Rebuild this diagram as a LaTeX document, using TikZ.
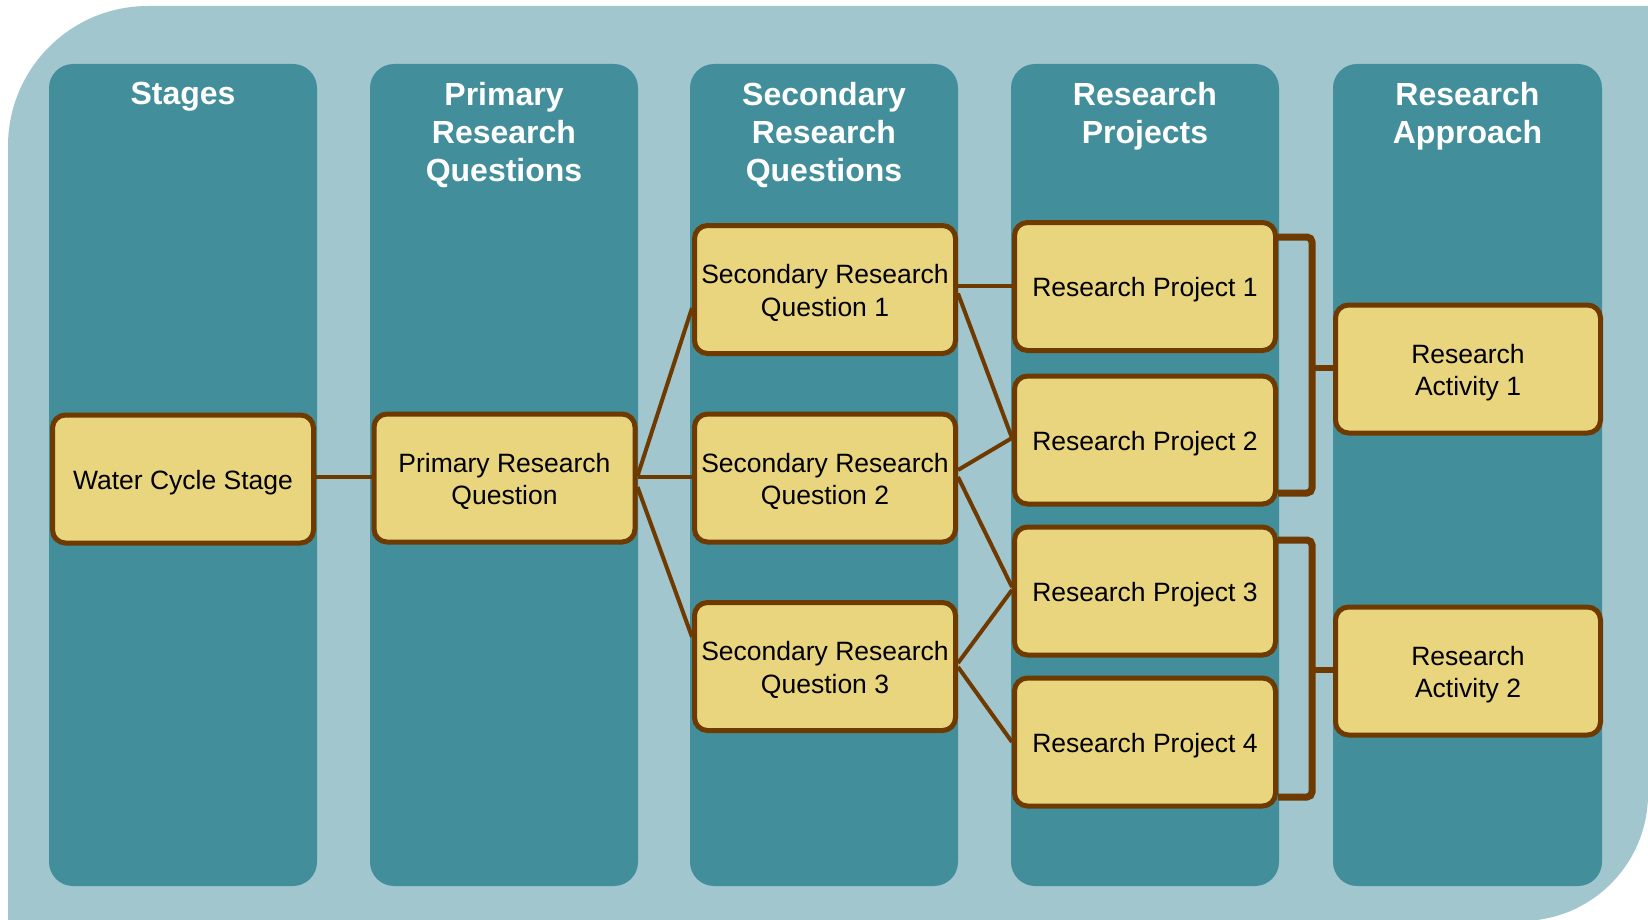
\documentclass[tikz,border=0pt]{standalone}
\usepackage{fontspec}
\setmainfont{Liberation Sans}
\usetikzlibrary{calc}
\definecolor{bglight}{RGB}{162,198,206}
\definecolor{colteal}{RGB}{67,142,155}
\definecolor{boxfill}{RGB}{233,213,125}
\definecolor{brownc}{RGB}{110,58,0}
\begin{document}
\begin{tikzpicture}[x=1pt,y=-1pt,
  colbox/.style={fill=colteal, rounded corners=24pt},
  header/.style={text=white, font=\fontsize{32}{38.3}\selectfont\bfseries, align=center, anchor=north, inner sep=0pt},
  item/.style={draw=brownc, line width=5pt, fill=boxfill, rounded corners=13pt, minimum width=261pt, minimum height=128pt, inner sep=0pt},
  itemtext/.style={align=center, font=\fontsize{26.5}{32.6}\selectfont, inner sep=0pt, yshift=-3.5pt},
  link/.style={draw=brownc, line width=4pt},
  brace/.style={draw=brownc, line width=7pt, rounded corners=5pt},
  stub/.style={draw=brownc, line width=6pt}]
\useasboundingbox (0,0) rectangle (1648,920);
% background
\fill[bglight] (8,146) .. controls (8,68.7) and (70.7,6) .. (148,6) -- (1648,6) -- (1648,794) .. controls (1648,864.1) and (1591.1,921) .. (1521,921) -- (8,921) -- cycle;
% columns
\fill[colbox] (49,64) rectangle (317,886);
\fill[colbox] (370,64) rectangle (638,886);
\fill[colbox] (690,64) rectangle (958,886);
\fill[colbox] (1011,64) rectangle (1279,886);
\fill[colbox] (1333,64) rectangle (1602,886);
% headers
\node[header] (h1) at (183,82) {Stages};
\node[header] (h2) at (504,82) {Primary\\Research\\Questions};
\node[header] (h3) at (824,82) {Secondary\\Research\\Questions};
\node[header] (h4) at (1145,82) {Research\\Projects};
\node[header] (h5) at (1467.5,82) {Research\\Approach};
% boxes
\node[item, label={[itemtext]center:Water Cycle Stage}] (w) at (183,479) {};
\node[item, label={[itemtext]center:{Primary Research\\Question}}] (p) at (504.5,478) {};
\node[item, label={[itemtext]center:{Secondary Research\\Question 1}}] (s1) at (825,289.5) {};
\node[item, label={[itemtext]center:{Secondary Research\\Question 2}}] (s2) at (825,478) {};
\node[item, label={[itemtext]center:{Secondary Research\\Question 3}}] (s3) at (825,666.5) {};
\node[item, label={[itemtext]center:Research Project 1}] (r1) at (1145,286.5) {};
\node[item, label={[itemtext]center:Research Project 2}] (r2) at (1145,440) {};
\node[item, label={[itemtext]center:Research Project 3}] (r3) at (1145,591) {};
\node[item, label={[itemtext]center:Research Project 4}] (r4) at (1145,742) {};
\node[item, minimum width=265pt, label={[itemtext]center:{Research\\Activity 1}}] (a1) at (1468,369) {};
\node[item, minimum width=265pt, label={[itemtext]center:{Research\\Activity 2}}] (a2) at (1468,671) {};
% connectors
\draw[link] ($(w.east)+(0,-2)$) -- ($(p.west)+(0,-1)$);
\draw[link] ($(p.east)+(0,-2)$) -- ($(s1.west)+(0,18.5)$);
\draw[link] ($(p.east)+(0,-1)$) -- ($(s2.west)+(0,-1)$);
\draw[link] ($(p.east)+(0,9)$) -- ($(s3.west)+(0,-29.5)$);
\draw[link] ($(r1.west)+(0,-0.5)$) -- ($(r1.west -| s1.east)+(0,-0.5)$);
\draw[link] ($(s1.east)+(0,4)$) -- ($(r2.west)+(0,-2)$);
\draw[link] ($(s2.east)+(0,-8)$) -- ($(r2.west)+(0,-2)$);
\draw[link] ($(s2.east)+(0,-1)$) -- ($(r3.west)+(0,-4)$);
\draw[link] ($(s3.east)+(0,-3.5)$) -- ($(r3.west)+(0,-1)$);
\draw[link] ($(s3.east)+(0,0.5)$) -- ($(r4.west)+(0,0)$);
% brackets
\coordinate (b1t) at ($(r1.east)+(0,-49.5)$);
\coordinate (b1b) at ($(r2.east)+(0,53)$);
\draw[brace] (b1t) -- ++(34,0) |- (b1b);
\draw[stub] ($(a1.west)+(-23,-1)$) -- ($(a1.west)+(0,-1)$);
\coordinate (b2t) at ($(r3.east)+(0,-51)$);
\coordinate (b2b) at ($(r4.east)+(0,55)$);
\draw[brace] (b2t) -- ++(34,0) |- (b2b);
\draw[stub] ($(a2.west)+(-23,-1)$) -- ($(a2.west)+(0,-1)$);
\end{tikzpicture}
\end{document}
